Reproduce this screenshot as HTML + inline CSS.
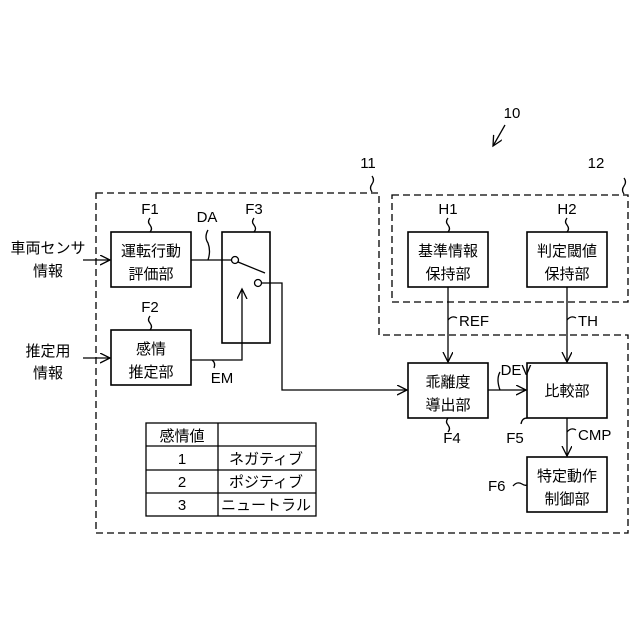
<html><body style="margin:0;background:#fff">
<svg width="640" height="640" viewBox="0 0 640 640" xmlns="http://www.w3.org/2000/svg" font-family="Liberation Sans, Noto Sans CJK JP, sans-serif" font-size="15" fill="#000">
<defs><marker id="a" markerWidth="12" markerHeight="12" refX="10" refY="5" orient="auto" markerUnits="userSpaceOnUse"><path d="M0,0 L10,5 L0,10" fill="none" stroke="#000" stroke-width="1.3"/></marker></defs>
<g stroke="#000" stroke-width="1.3" fill="none">
<path d="M96,193 H379 V335 H628 V533 H96 Z" stroke-dasharray="7,4"/>
<rect x="392" y="195" width="236" height="107" stroke-dasharray="7,4"/>
<rect x="111" y="232" width="80" height="55" stroke-width="1.6"/>
<rect x="111" y="330" width="80" height="55" stroke-width="1.6"/>
<rect x="222" y="232" width="48" height="111" stroke-width="1.6"/>
<rect x="408" y="232" width="80" height="55" stroke-width="1.6"/>
<rect x="527" y="232" width="80" height="55" stroke-width="1.6"/>
<rect x="408" y="363" width="80" height="55" stroke-width="1.6"/>
<rect x="527" y="363" width="80" height="55" stroke-width="1.6"/>
<rect x="527" y="457" width="80" height="55" stroke-width="1.6"/>
<line x1="83" y1="260" x2="110" y2="260" marker-end="url(#a)"/>
<line x1="83" y1="358" x2="110" y2="358" marker-end="url(#a)"/>
<line x1="191" y1="260" x2="231" y2="260"/>
<circle cx="235" cy="260" r="3.5"/>
<line x1="238" y1="262" x2="265" y2="273"/>
<circle cx="258" cy="283" r="3.5"/>
<path d="M262,283 H282 V390 H407" marker-end="url(#a)"/>
<path d="M191,360 H242 V289" marker-end="url(#a)"/>
<line x1="448" y1="287" x2="448" y2="362" marker-end="url(#a)"/>
<line x1="567" y1="287" x2="567" y2="362" marker-end="url(#a)"/>
<line x1="488" y1="390" x2="526" y2="390" marker-end="url(#a)"/>
<line x1="567" y1="418" x2="567" y2="456" marker-end="url(#a)"/>
<line x1="505" y1="125" x2="493" y2="146" marker-end="url(#a)"/>
<path d="M150,218 q-3,4 0,7 q3,4 0,7"/>
<path d="M150,316 q-3,4 0,7 q3,4 0,7"/>
<path d="M254,218 q-3,4 0,7 q3,4 0,7"/>
<path d="M448,218 q-3,4 0,7 q3,4 0,7"/>
<path d="M567,218 q-3,4 0,7 q3,4 0,7"/>
<path d="M448,418 q-3,4 0,7 q3,4 0,7"/>
<path d="M208,230 q-4,7 0,13 q3,8 0,17"/>
<path d="M212,360 q4,3 2,8"/>
<path d="M500,372 q-4,7 0,18"/>
<path d="M527,418 q-5,0 -6,6"/>
<path d="M448,320 q4,-5 9,-2"/>
<path d="M567,320 q4,-5 9,-2"/>
<path d="M567,432 q4,-5 9,-2"/>
<path d="M513,486 q4,-5 9,-2 q3,2 5,1"/>
<path d="M372,192 q-3,-4 0,-8 q3,-4 0,-8"/>
<path d="M624,194 q-3,-4 0,-8 q3,-4 0,-8"/>
<rect x="146" y="423" width="170" height="93"/>
<line x1="146" y1="446" x2="316" y2="446"/><line x1="146" y1="470" x2="316" y2="470"/><line x1="146" y1="493" x2="316" y2="493"/>
<line x1="218" y1="423" x2="218" y2="516"/>
</g>
<g text-anchor="middle">
<text x="151" y="256">運転行動</text><text x="151" y="279">評価部</text>
<text x="151" y="354">感情</text><text x="151" y="377">推定部</text>
<text x="448" y="256">基準情報</text><text x="448" y="279">保持部</text>
<text x="567" y="256">判定閾値</text><text x="567" y="279">保持部</text>
<text x="448" y="387">乖離度</text><text x="448" y="410">導出部</text>
<text x="567" y="396">比較部</text>
<text x="567" y="481">特定動作</text><text x="567" y="504">制御部</text>
<text x="48" y="253">車両センサ</text><text x="48" y="276">情報</text>
<text x="48" y="356">推定用</text><text x="48" y="378">情報</text>
<text x="150" y="214">F1</text><text x="150" y="312">F2</text><text x="254" y="214">F3</text>
<text x="207" y="222">DA</text><text x="222" y="383">EM</text>
<text x="448" y="214">H1</text><text x="567" y="214">H2</text>
<text x="452" y="443">F4</text><text x="515" y="443">F5</text>
<text x="516" y="375">DEV</text>
<text x="512" y="118">10</text><text x="368" y="168">11</text><text x="596" y="168">12</text>
<text x="182" y="441">感情値</text>
<text x="182" y="464">1</text><text x="182" y="487">2</text><text x="182" y="510">3</text>
<text x="266" y="464">ネガティブ</text><text x="266" y="487">ポジティブ</text><text x="266" y="510">ニュートラル</text>
</g>
<text x="459" y="326">REF</text><text x="578" y="326">TH</text><text x="578" y="440">CMP</text>
<text x="488" y="491">F6</text>
</svg>
</body></html>
